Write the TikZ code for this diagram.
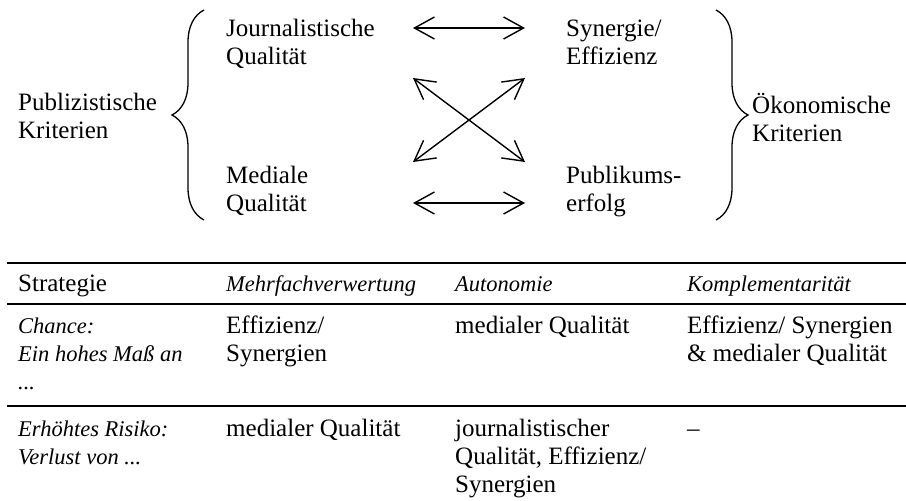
\documentclass[tikz,border=0pt]{standalone}
\usepackage{fontspec}
\setmainfont{Liberation Serif}
\usetikzlibrary{arrows.meta,decorations.pathreplacing}

\tikzset{
    txt/.style={anchor=base west, inner sep=0pt, align=left, font=\fontsize{25}{28}\selectfont},
    itxt/.style={txt, font=\fontsize{22.5}{28}\selectfont\itshape},
    pfeil/.style={<->, line width=1.4pt},
    klammer/.style={decorate, decoration={brace, amplitude=32pt}, line width=1.3pt},
    linie/.style={line width=2.6pt}
}

\begin{document}
\begin{tikzpicture}[x=1pt, y=-1pt, >={Straight Barb[length=20pt,width=22pt]}]
    \useasboundingbox (0,0) rectangle (906,501);
    % Tiêu chí hai bên (toạ độ: đường cơ sở của dòng cuối)
    \node[txt] (pub) at (18,138) {Publizistische\\Kriterien};
    \node[txt] (jq) at (226,64) {Journalistische\\Qualität};
    \node[txt] (mq) at (226,211) {Mediale\\Qualität};
    \node[txt] (se) at (566,64) {Synergie/\\Effizienz};
    \node[txt] (pe) at (566,211) {Publikums-\\erfolg};
    \node[txt] (oek) at (752,141) {Ökonomische\\Kriterien};
    % Dấu ngoặc
    \draw[klammer] (204,220) -- (204,10);
    \draw[klammer] (716,10) -- (716,220);
    % Mũi tên hai chiều
    \coordinate (a1) at (413,28);  \coordinate (b1) at (525,28);
    \coordinate (a2) at (413,78);  \coordinate (b2) at (525,78);
    \coordinate (a3) at (413,162); \coordinate (b3) at (525,162);
    \coordinate (a4) at (413,203); \coordinate (b4) at (525,203);
    \draw[pfeil] (a1) -- (b1);
    \draw[pfeil] (a4) -- (b4);
    \draw[pfeil] (a2) -- (b3);
    \draw[pfeil] (a3) -- (b2);
    % Bảng
    \foreach \y in {263,304,406}
        \draw[linie] (7,\y) -- (906,\y);
    \node[txt] (h1) at (18,291) {Strategie};
    \node[itxt] (h2) at (226,291) {Mehrfachverwertung};
    \node[itxt] (h3) at (455,291) {Autonomie};
    \node[itxt] (h4) at (687,291) {Komplementarität};
    \node[itxt] (r1a) at (18,389) {Chance:\\Ein hohes Maß an\\...};
    \node[txt] (r1b) at (226,361) {Effizienz/\\Synergien};
    \node[txt] (r1c) at (455,333) {medialer Qualität};
    \node[txt] (r1d) at (687,361) {Effizienz/ Synergien\\\& medialer Qualität};
    \node[itxt] (r2a) at (18,464) {Erhöhtes Risiko:\\Verlust von ...};
    \node[txt] (r2b) at (226,436) {medialer Qualität};
    \node[txt] (r2c) at (455,492) {journalistischer\\Qualität, Effizienz/\\Synergien};
    \node[txt] (r2d) at (687,436) {--};
\end{tikzpicture}
\end{document}
